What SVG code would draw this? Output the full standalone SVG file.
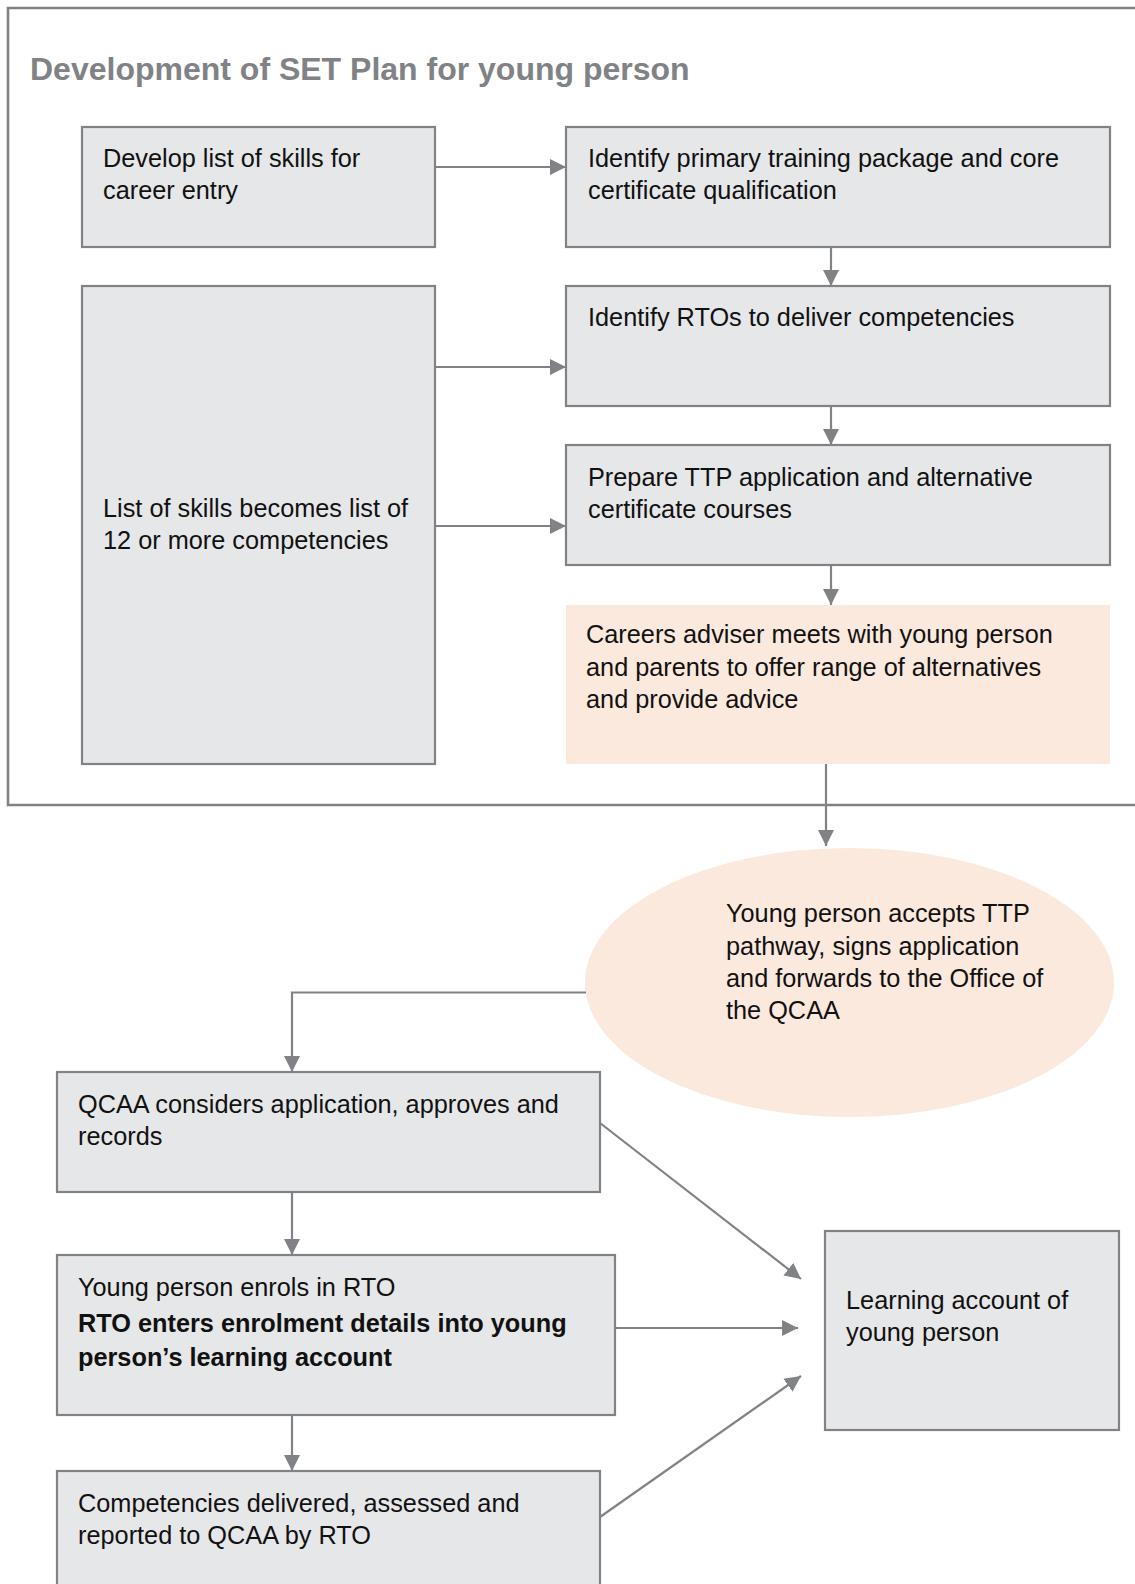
<svg xmlns="http://www.w3.org/2000/svg" width="1135" height="1584" viewBox="0 0 1135 1584">
<style>
  .box { fill: #e6e7e8; stroke: #808285; stroke-width: 2.2; }
  .peach { fill: #fbe9dd; stroke: none; }
  .t { font-family: "Liberation Sans", Arial, sans-serif; font-size: 25.3px; fill: #111111; }
  .b { font-weight: bold; }
  .title { font-family: "Liberation Sans", Arial, sans-serif; font-size: 32px; font-weight: bold; fill: #808285; }
  .frame { fill: none; stroke: #808285; stroke-width: 2.6; }
  .conn { fill: none; stroke: #808285; stroke-width: 2.2; }
</style>
<defs>
  <marker id="arrow" markerUnits="userSpaceOnUse" markerWidth="16" markerHeight="16" viewBox="0 0 15 15" refX="15" refY="7.5" orient="auto">
    <path d="M0,0 L15,7.5 L0,15 z" fill="#808285"/>
  </marker>
</defs>
<rect width="1135" height="1584" fill="#ffffff"/>

<g id="frame">
  <path class="frame" d="M1136,8 H8 V805 H1136"/>
  <text class="title" x="30" y="80">Development of SET Plan for young person</text>
</g>

<g id="node-develop-skills">
  <rect class="box" x="82" y="127" width="353" height="120"/>
  <text class="t" x="103" y="167">Develop list of skills for</text>
  <text class="t" x="103" y="199">career entry</text>
</g>

<g id="node-identify-package">
  <rect class="box" x="566" y="127" width="544" height="120"/>
  <text class="t" x="588" y="167">Identify primary training package and core</text>
  <text class="t" x="588" y="199">certificate qualification</text>
</g>

<g id="node-competencies-list">
  <rect class="box" x="82" y="286" width="353" height="478"/>
  <text class="t" x="103" y="517">List of skills becomes list of</text>
  <text class="t" x="103" y="549">12 or more competencies</text>
</g>

<g id="node-identify-rtos">
  <rect class="box" x="566" y="286" width="544" height="120"/>
  <text class="t" x="588" y="326">Identify RTOs to deliver competencies</text>
</g>

<g id="node-prepare-ttp">
  <rect class="box" x="566" y="445" width="544" height="120"/>
  <text class="t" x="588" y="486">Prepare TTP application and alternative</text>
  <text class="t" x="588" y="518">certificate courses</text>
</g>

<g id="node-careers-adviser">
  <rect class="peach" x="566" y="605" width="544" height="159"/>
  <text class="t" x="586" y="643">Careers adviser meets with young person</text>
  <text class="t" x="586" y="676">and parents to offer range of alternatives</text>
  <text class="t" x="586" y="708">and provide advice</text>
</g>

<g id="node-accepts">
  <ellipse class="peach" cx="849.5" cy="982.5" rx="264.5" ry="134.5"/>
  <text class="t" x="726" y="922">Young person accepts TTP</text>
  <text class="t" x="726" y="955">pathway, signs application</text>
  <text class="t" x="726" y="987">and forwards to the Office of</text>
  <text class="t" x="726" y="1019">the QCAA</text>
</g>

<g id="node-qcaa">
  <rect class="box" x="57" y="1072" width="543" height="120"/>
  <text class="t" x="78" y="1113">QCAA considers application, approves and</text>
  <text class="t" x="78" y="1145">records</text>
</g>

<g id="node-enrol">
  <rect class="box" x="57" y="1255" width="558" height="160"/>
  <text class="t" x="78" y="1296">Young person enrols in RTO</text>
  <text class="t b" x="78" y="1332">RTO enters enrolment details into young</text>
  <text class="t b" x="78" y="1366">person’s learning account</text>
</g>

<g id="node-delivered">
  <rect class="box" x="57" y="1471" width="543" height="150"/>
  <text class="t" x="78" y="1512">Competencies delivered, assessed and</text>
  <text class="t" x="78" y="1544">reported to QCAA by RTO</text>
</g>

<g id="node-learning-account">
  <rect class="box" x="825" y="1231" width="294" height="199"/>
  <text class="t" x="846" y="1309">Learning account of</text>
  <text class="t" x="846" y="1341">young person</text>
</g>

<g id="connectors">
  <line class="conn" x1="435" y1="167" x2="566" y2="167" marker-end="url(#arrow)"/>
  <line class="conn" x1="435" y1="367" x2="566" y2="367" marker-end="url(#arrow)"/>
  <line class="conn" x1="435" y1="526" x2="566" y2="526" marker-end="url(#arrow)"/>
  <line class="conn" x1="831" y1="247" x2="831" y2="286" marker-end="url(#arrow)"/>
  <line class="conn" x1="831" y1="406" x2="831" y2="445" marker-end="url(#arrow)"/>
  <line class="conn" x1="831" y1="565" x2="831" y2="605" marker-end="url(#arrow)"/>
  <line class="conn" x1="826" y1="764" x2="826" y2="846" marker-end="url(#arrow)"/>
  <polyline class="conn" points="586,992.5 292,992.5 292,1072" marker-end="url(#arrow)"/>
  <line class="conn" x1="292" y1="1192" x2="292" y2="1255" marker-end="url(#arrow)"/>
  <line class="conn" x1="292" y1="1415" x2="292" y2="1471" marker-end="url(#arrow)"/>
  <line class="conn" x1="600" y1="1123" x2="801" y2="1279" marker-end="url(#arrow)"/>
  <line class="conn" x1="615" y1="1328" x2="798" y2="1328" marker-end="url(#arrow)"/>
  <line class="conn" x1="600" y1="1517" x2="801" y2="1376" marker-end="url(#arrow)"/>
</g>
</svg>
